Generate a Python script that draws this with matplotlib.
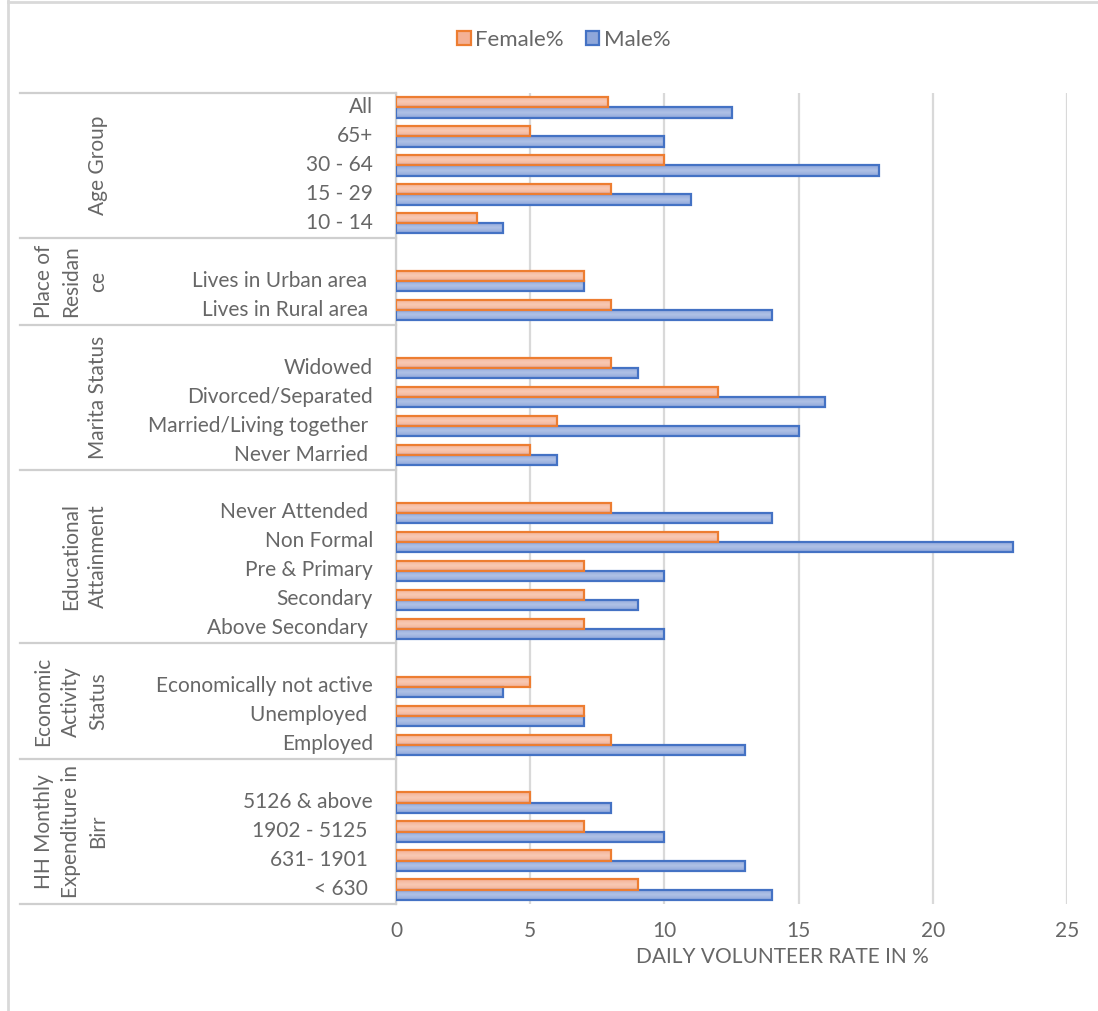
import numpy as np
import matplotlib.pyplot as plt
from matplotlib.colors import LinearSegmentedColormap
from matplotlib.patches import Patch
from matplotlib.lines import Line2D
from matplotlib.transforms import ScaledTranslation

plt.rcParams['font.family'] = ['Lato', 'DejaVu Sans']

################################## DATA ##################################

# outer level of the category axis, top to bottom
groups = ['Age Group', 'Place of\nResidan\nce', 'Marita Status',
          'Educational\nAttainment', 'Economic\nActivity\nStatus',
          'HH Monthly\nExpenditure in\nBirr']
group_sizes = [5, 3, 5, 6, 4, 5]

# inner level, top to bottom ('' = empty row)
labels = ['All', '65+', '30 - 64', '15 - 29', '10 - 14',
          '', 'Lives in Urban area ', 'Lives in Rural area ',
          '', 'Widowed', 'Divorced/Separated', 'Married/Living together ', 'Never Married ',
          '', 'Never Attended ', 'Non Formal', 'Pre & Primary', 'Secondary', 'Above Secondary ',
          '', 'Economically not active', 'Unemployed ', 'Employed',
          '', '5126 & above', '1902 - 5125 ', '631- 1901 ', '< 630 ']

female = [7.9, 5, 10, 8, 3,
          np.nan, 7, 8,
          np.nan, 8, 12, 6, 5,
          np.nan, 8, 12, 7, 7, 7,
          np.nan, 5, 7, 8,
          np.nan, 5, 7, 8, 9]

male = [12.5, 10, 18, 11, 4,
        np.nan, 7, 14,
        np.nan, 9, 16, 15, 6,
        np.nan, 14, 23, 10, 9, 10,
        np.nan, 4, 7, 13,
        np.nan, 8, 10, 13, 14]

xticks = [0, 5, 10, 15, 20, 25]

################################## STYLE ##################################

text_col = '#676767'
grid_col = '#d9d9d9'
line_col = '#cfcfcf'
orange_edge, orange_fill, orange_light = '#ed7d31', '#f4b196', '#f8c9b4'
blue_edge, blue_fill, blue_light = '#4472c4', '#8fa7da', '#b0c1e6'
fs = 15

W, H = 1098, 1011
fig = plt.figure(figsize=(W / 100, H / 100), dpi=100)
ax = fig.add_axes([396 / W, 1 - 904 / H, 671 / W, 811 / H])

n = len(labels)
y = np.arange(n)
bh = 0.35


def shade(bars, fill, light):
    # vertical gradient inside each bar, clipped to the bar outline
    cmap = LinearSegmentedColormap.from_list('g', [fill, light, fill])
    grad = np.linspace(0, 1, 64).reshape(-1, 1)
    for b in bars:
        w = b.get_width()
        if np.isnan(w):
            continue
        x0, y0 = b.get_xy()
        im = ax.imshow(grad, cmap=cmap, aspect='auto', interpolation='bilinear',
                       extent=[x0, x0 + w, y0 + b.get_height(), y0], zorder=2)
        im.set_clip_path(b)


mb = ax.barh(y + bh / 2, male, height=bh, facecolor='none', edgecolor=blue_edge,
             linewidth=1.6, zorder=3)
fb = ax.barh(y - bh / 2, female, height=bh, facecolor='none', edgecolor=orange_edge,
             linewidth=1.6, zorder=3.5)
shade(mb, blue_fill, blue_light)
shade(fb, orange_fill, orange_light)

ax.set_xlim(0, 25)
ax.set_ylim(n - 0.5, -0.5)

ax.set_xticks(xticks)
ax.set_xticklabels([str(t) for t in xticks])
ax.set_yticks([])
ax.tick_params(axis='x', length=0, pad=12, labelsize=fs, labelcolor=text_col)
ax.grid(axis='x', color=grid_col, linewidth=1.6, zorder=0)
ax.set_axisbelow(True)

for s in ['top', 'right', 'bottom']:
    ax.spines[s].set_visible(False)
ax.spines['left'].set_color(line_col)
ax.spines['left'].set_linewidth(1.6)

# inner category labels, right aligned next to the axis
tr = ax.get_yaxis_transform()
lab_tr = tr + ScaledTranslation(-23 / 100, 0.5 / 100, fig.dpi_scale_trans)
for yi, lab in zip(y, labels):
    ax.text(0, yi, lab, transform=lab_tr, ha='right', va='center',
            fontsize=fs, color=text_col)

# group table on the left: separators and rotated group names
x_left = (20 - 396) / 671
bounds = np.concatenate([[0], np.cumsum(group_sizes)]) - 0.5
for b in bounds:
    ax.add_line(Line2D([x_left, 0], [b, b], transform=tr, color=line_col,
                       linewidth=1.6, clip_on=False))
x_grp = (108 - 396) / 671
for g, lo, hi in zip(groups, bounds[:-1], bounds[1:]):
    ax.text(x_grp, (lo + hi) / 2, g, transform=tr, rotation=90, ha='right',
            va='center', multialignment='center', fontsize=fs,
            color=text_col, linespacing=1.45)

fig.text(782 / W, 1 - 957 / H, 'DAILY VOLUNTEER RATE IN %', ha='center',
         va='center', fontsize=15, color=text_col)

handles = [Patch(facecolor=orange_fill, edgecolor=orange_edge, linewidth=1.6),
           Patch(facecolor=blue_fill, edgecolor=blue_edge, linewidth=1.6)]
fig.legend(handles, ['Female%', 'Male%'], loc='center', ncol=2,
           bbox_to_anchor=(564 / W, 1 - 40 / H), frameon=False, fontsize=16,
           handlelength=0.6, handleheight=0.6, handletextpad=0.2,
           columnspacing=1.0, labelcolor=text_col)

# chart area border (top and left edges)
fig.add_artist(Line2D([7.5 / W, 1], [1 - 1.5 / H, 1 - 1.5 / H], transform=fig.transFigure,
                      color=grid_col, linewidth=2))
fig.add_artist(Line2D([7.5 / W, 7.5 / W], [0, 1], transform=fig.transFigure,
                      color=grid_col, linewidth=2))

fig.savefig('out.png', dpi=100)
